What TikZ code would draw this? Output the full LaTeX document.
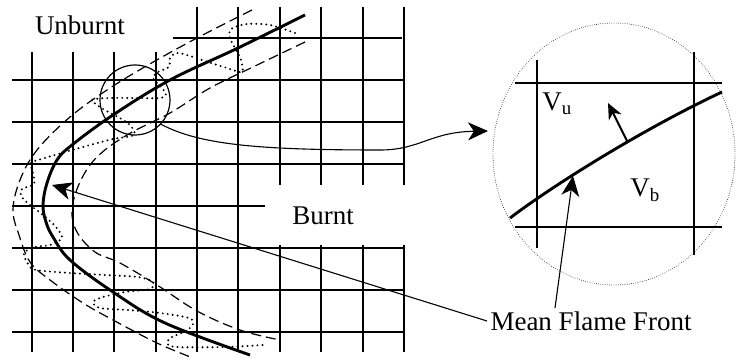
\documentclass[tikz,border=0pt]{standalone}
\usepackage{fontspec}
\setmainfont{Liberation Serif}
\usetikzlibrary{arrows.meta,shapes.geometric}

\tikzset{
  gridline/.style={line width=1.5pt},
  meanfront/.style={line width=2.9pt},
  flamedash/.style={line width=1.2pt, dash pattern=on 10pt off 5pt},
  flamewrinkle/.style={line width=2.2pt, dash pattern=on 0pt off 5pt, line cap=round},
  pointer/.style={line width=1.1pt, ->},
}

\begin{document}
\begin{tikzpicture}[x=1pt, y=-1pt, >={Stealth[length=20pt,width=18pt,inset=6pt]},
    every node/.style={font=\fontsize{27}{30}\selectfont}]
  \useasboundingbox (0,0) rectangle (736,363);
  %% Grid, horizontal lines
  \draw[gridline] (173,38) -- (402,38);
  \draw[gridline] (12,80) -- (404,80);
  \draw[gridline] (12,122) -- (404,122);
  \draw[gridline] (12,164) -- (404,164);
  \draw[gridline] (12,206) -- (265,206);
  \draw[gridline] (12,248) -- (404,248);
  \draw[gridline] (12,290) -- (404,290);
  \draw[gridline] (12,332) -- (404,332);
  %% Grid, vertical lines
  \draw[gridline] (32,52) -- (32,352);
  \draw[gridline] (73,52) -- (73,352);
  \draw[gridline] (114,52) -- (114,352);
  \draw[gridline] (156,52) -- (156,352);
  \draw[gridline] (197,7) -- (197,352);
  \draw[gridline] (238,7) -- (238,352);
  \draw[gridline] (280,7) -- (280,185);  \draw[gridline] (280,245) -- (280,352);
  \draw[gridline] (321,7) -- (321,185);  \draw[gridline] (321,245) -- (321,352);
  \draw[gridline] (363,7) -- (363,185);  \draw[gridline] (363,245) -- (363,352);
  \draw[gridline] (404,7) -- (404,185);  \draw[gridline] (404,245) -- (404,352);

  %% Flame brush (dashed bounds)
  \draw[flamedash] plot[smooth, tension=0.6] coordinates {(252,10) (197,38) (148,65) (107,90) (70,117) (37,150) (20,180) (13,210) (19,235) (30,262) (50,280) (83,303) (113,320) (157,343) (193,358)};
  \draw[flamedash] plot[smooth, tension=0.6] coordinates {(305,42) (253,67) (210,88) (170,113) (127,135) (97,157) (80,182) (72,210) (77,232) (95,252) (120,263) (157,285) (197,311) (240,330) (280,340)};
  %% Instantaneous (wrinkled) front
  \draw[flamewrinkle] plot[smooth, tension=0.5] coordinates {(295,33) (270,25) (247,24) (231,29) (230,38) (236,50) (241,60) (242,72) (227,68) (208,62) (190,56) (177,53) (170,58) (169,67) (158,72) (153,78) (160,86) (166,94) (160,98) (135,98) (110,98) (92,100) (103,109) (118,117) (130,125) (134,135) (113,139) (90,145) (65,152) (45,158) (31,163) (33,173) (34,184) (22,189) (21,196) (30,205) (43,215) (56,227) (62,238) (50,245) (35,247) (24,253) (28,264) (36,270) (70,273) (105,275) (138,277) (153,282) (150,289) (125,292) (103,297) (93,302) (100,308) (128,310) (160,313) (189,318) (193,324) (186,331) (172,337) (167,343) (176,347) (225,347) (263,345)};
  %% Mean flame front
  \draw[meanfront] plot[smooth, tension=0.6] coordinates {(305,15) (238,48) (170,80) (113,115) (72,145) (57,160) (47,183) (43,205) (46,222) (53,237) (70,260) (113,292) (165,323) (250,355)};

  %% Lens and zoomed view
  \node[draw, circle, line width=1.2pt, minimum size=70pt, inner sep=0pt] (lens) at (135,100) {};
  \node[draw, ellipse, line width=0.8pt, dash pattern=on 0pt off 2.2pt, line cap=round,
        minimum width=242pt, minimum height=262pt, inner sep=0pt] (zoomview) at (614,154) {};
  \draw[gridline] (515,83) -- (722,83);
  \draw[gridline] (515,227) -- (722,227);
  \draw[line width=1.7pt] (537,60) -- (537,248);
  \draw[line width=1.7pt] (694,52) -- (694,255);
  \draw[meanfront] (510,218) .. controls (555,184) and (645,128) .. (722,92);
  \coordinate (normalfoot) at (627,141);
  \coordinate (normaltip) at (608,103);
  \draw[line width=2pt, -{Stealth[length=16pt,width=14pt,inset=5pt]}] (normalfoot) -- (normaltip);
  \node (vu) at (557,104) {V\textsubscript{u}};
  \node (vb) at (645,190) {V\textsubscript{b}};

  %% Labels
  \node (unburnt) at (80,25) {Unburnt};
  \node (burnt) at (323,216) {Burnt};
  \node (meanlabel) at (591,321) {Mean Flame Front};

  %% Pointers
  \coordinate (zoomtip) at (488,131);
  \coordinate (fronttip) at (52,185);
  \coordinate (zoomfront) at (573,176);
  \draw[pointer] (lens.-43) .. controls (200,145) and (260,150) .. (380,150)
                 .. controls (420,150) and (430,132) .. (zoomtip);
  \draw[pointer] (meanlabel.west) -- (fronttip);
  \draw[pointer] ([xshift=-36pt]meanlabel.north) -- (zoomfront);
\end{tikzpicture}
\end{document}
